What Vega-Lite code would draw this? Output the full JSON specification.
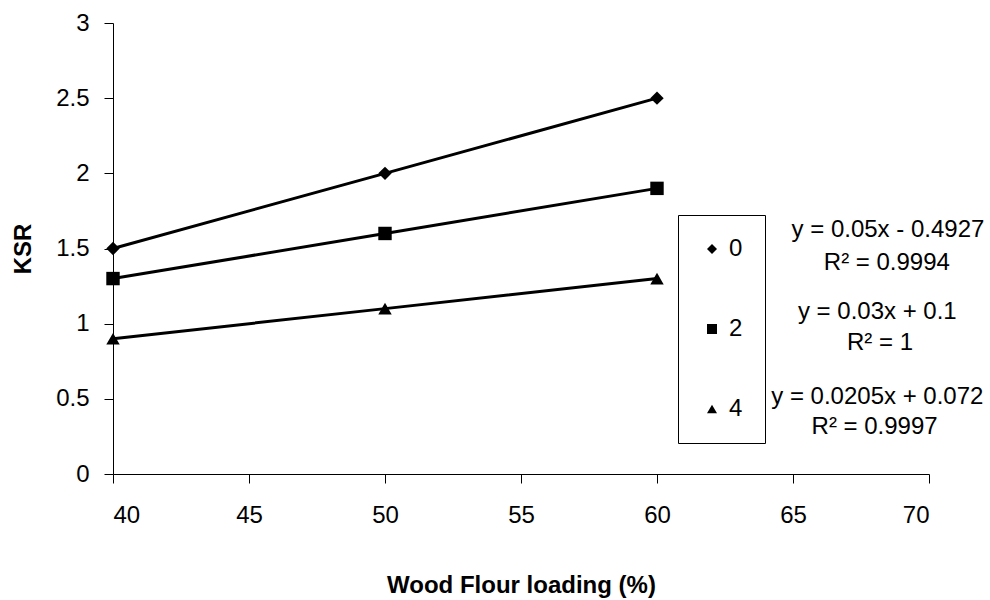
{
  "$schema": "https://vega.github.io/schema/vega-lite/v6.json",
  "width": 816,
  "height": 451,
  "autosize": {"type": "none"},
  "padding": {"left": 113, "top": 23, "right": 61, "bottom": 126},
  "background": "white",
  "config": {
    "view": {"stroke": null},
    "font": "Liberation Sans",
    "axis": {
      "grid": false,
      "domainColor": "black",
      "domainWidth": 1,
      "tickColor": "black",
      "tickWidth": 1,
      "tickSize": 9,
      "labelFont": "Liberation Sans",
      "labelFontSize": 24,
      "labelColor": "black",
      "titleFont": "Liberation Sans",
      "titleFontSize": 24,
      "titleFontWeight": "bold",
      "titleColor": "black"
    },
    "legend": {
      "orient": "none",
      "legendX": 565,
      "legendY": 192,
      "strokeColor": "black",
      "strokeWidth": 1,
      "fillColor": "white",
      "padding": 22,
      "rowPadding": 56,
      "labelFont": "Liberation Sans",
      "labelFontSize": 24,
      "labelColor": "black",
      "labelOffset": 5,
      "symbolSize": 100,
      "symbolFillColor": "black",
      "symbolStrokeColor": "black",
      "symbolStrokeWidth": 0
    }
  },
  "datasets": {
    "series": [
      {"loading": 40, "ksr": 1.5, "series": "0"},
      {"loading": 50, "ksr": 2.0, "series": "0"},
      {"loading": 60, "ksr": 2.5, "series": "0"},
      {"loading": 40, "ksr": 1.3, "series": "2"},
      {"loading": 50, "ksr": 1.6, "series": "2"},
      {"loading": 60, "ksr": 1.9, "series": "2"},
      {"loading": 40, "ksr": 0.9, "series": "4"},
      {"loading": 50, "ksr": 1.1, "series": "4"},
      {"loading": 60, "ksr": 1.3, "series": "4"}
    ],
    "notes": [
      {"x": 68.49, "y": 1.623, "text": "y = 0.05x - 0.4927"},
      {"x": 68.45, "y": 1.404, "text": "R² = 0.9994"},
      {"x": 68.1, "y": 1.078, "text": "y = 0.03x + 0.1"},
      {"x": 68.2, "y": 0.872, "text": "R² = 1"},
      {"x": 68.1, "y": 0.512, "text": "y = 0.0205x + 0.072"},
      {"x": 68.0, "y": 0.313, "text": "R² = 0.9997"}
    ]
  },
  "layer": [
    {
      "data": {"name": "series"},
      "mark": {"type": "line", "color": "black", "strokeWidth": 3},
      "encoding": {
        "x": {
          "field": "loading",
          "type": "quantitative",
          "scale": {"domain": [40, 70], "nice": false, "zero": false},
          "axis": {
            "values": [40, 45, 50, 55, 60, 65, 70],
            "labelPadding": 20,
            "title": "Wood Flour loading (%)",
            "titlePadding": 46
          }
        },
        "y": {
          "field": "ksr",
          "type": "quantitative",
          "scale": {"domain": [0, 3], "nice": false},
          "axis": {
            "values": [0, 0.5, 1, 1.5, 2, 2.5, 3],
            "format": "~g",
            "labelPadding": 15,
            "title": "KSR",
            "titlePadding": 20
          }
        },
        "detail": {"field": "series", "type": "nominal"}
      }
    },
    {
      "data": {"name": "series"},
      "mark": {"type": "point", "filled": true, "color": "black", "opacity": 1, "size": 180},
      "encoding": {
        "x": {"field": "loading", "type": "quantitative"},
        "y": {"field": "ksr", "type": "quantitative"},
        "shape": {
          "field": "series",
          "type": "nominal",
          "scale": {"domain": ["0", "2", "4"], "range": ["diamond", "square", "triangle-up"]},
          "legend": {"title": null}
        }
      }
    },
    {
      "data": {"name": "notes"},
      "mark": {"type": "text", "font": "Liberation Sans", "fontSize": 24, "color": "black", "align": "center", "baseline": "middle"},
      "encoding": {
        "x": {"field": "x", "type": "quantitative"},
        "y": {"field": "y", "type": "quantitative"},
        "text": {"field": "text", "type": "nominal"}
      }
    }
  ]
}
